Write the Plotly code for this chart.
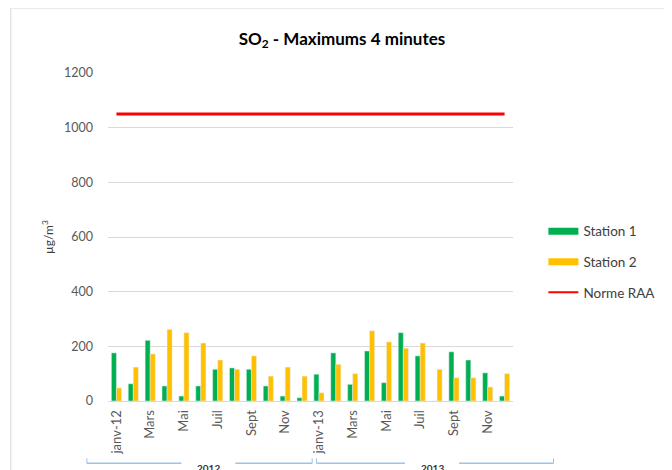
import plotly.graph_objects as go

# months as Excel shows them (first month of each year carries the year)
month_labels = ["janv-12", "Févr", "Mars", "Avr", "Mai", "Juin", "Juil", "Août", "Sept", "Oct", "Nov", "Déc",
                "janv-13", "Févr", "Mars", "Avr", "Mai", "Juin", "Juil", "Août", "Sept", "Oct", "Nov", "Déc"]
years = ["2012", "2013"]

station1 = [176, 63, 222, 55, 18, 55, 116, 121, 116, 55, 18, 12,
            98, 176, 61, 183, 67, 250, 165, 0, 180, 150, 103, 18]
station2 = [48, 124, 172, 262, 250, 212, 150, 116, 165, 91, 124, 91,
            30, 134, 100, 257, 216, 193, 212, 116, 85, 85, 51, 100]
norme_raa = [1050] * 24

x = list(range(len(month_labels)))
GREEN = "#00B050"
YELLOW = "#FFC000"
RED = "#FF0000"
FONT = "Lato"

fig = go.Figure()
fig.add_trace(go.Bar(x=x, y=station1, marker_color=GREEN, name="Station 1",
                     showlegend=False, legendgroup="s1"))
fig.add_trace(go.Bar(x=x, y=station2, marker_color=YELLOW, name="Station 2",
                     showlegend=False, legendgroup="s2"))
fig.add_trace(go.Scatter(x=x, y=norme_raa, mode="lines", line=dict(color=RED, width=3),
                         name="Norme RAA", showlegend=False, legendgroup="raa"))

# legend entries drawn as wide strips like Excel
fig.add_trace(go.Scatter(x=[None], y=[None], mode="lines", line=dict(color=GREEN, width=7),
                         name="Station 1", legendgroup="s1"))
fig.add_trace(go.Scatter(x=[None], y=[None], mode="lines", line=dict(color=YELLOW, width=7),
                         name="Station 2", legendgroup="s2"))
fig.add_trace(go.Scatter(x=[None], y=[None], mode="lines", line=dict(color=RED, width=2),
                         name="Norme RAA", legendgroup="raa"))


def to_paper(v):
    # category position -> paper fraction of the x axis
    return (v + 0.5) / len(x)


# year labels + brackets under the month labels (Excel stretches them a bit)
brackets = [(-1.75, 11.6), (11.85, 25.9)]
label_pos = [5.45, 18.7]
line_style = dict(color="#9DC3E6", width=1.5)
for i, yr in enumerate(years):
    b0, b1 = brackets[i]
    lx = label_pos[i]
    fig.add_annotation(x=to_paper(lx), y=-0.203, xref="paper", yref="paper", text="<b>" + yr + "</b>",
                       showarrow=False, font=dict(family=FONT, size=10, color="#333333"),
                       xanchor="center", yanchor="middle")
    fig.add_shape(type="line", xref="paper", yref="paper", x0=to_paper(b0), x1=to_paper(lx - 1.6),
                  y0=-0.19, y1=-0.19, line=line_style)
    fig.add_shape(type="line", xref="paper", yref="paper", x0=to_paper(lx + 1.6), x1=to_paper(b1),
                  y0=-0.19, y1=-0.19, line=line_style)
    for bx in (b0, b1):
        fig.add_shape(type="line", xref="paper", yref="paper", x0=to_paper(bx), x1=to_paper(bx),
                      y0=-0.19, y1=-0.175, line=dict(color="#9DC3E6", width=1))

# faint chart-area border
fig.add_shape(type="rect", xref="paper", yref="paper", x0=-0.24, x1=1.5, y0=-0.5, y1=1.198,
              line=dict(color="#D9D9D9", width=1))

fig.add_annotation(x=-0.148, y=0.5, xref="paper", yref="paper", text="µg/m<sup>3</sup>",
                   showarrow=False, textangle=-90, xanchor="center", yanchor="middle",
                   font=dict(family=FONT, size=12, color="#404040"))

# page body adds 8px offset, so the figure is drawn 8px smaller
fig.update_layout(
    width=664, height=462,
    margin=dict(l=100, r=159, t=65, b=69),
    paper_bgcolor="white", plot_bgcolor="white",
    font=dict(family=FONT, size=12, color="#595959"),
    title=dict(text="<b>SO<sub>2</sub> - Maximums 4 minutes</b>", x=0.503, xanchor="center",
               y=0.933, yanchor="middle", font=dict(family=FONT, size=17, color="black")),
    barmode="group", bargap=0.4, bargroupgap=0,
    legend=dict(x=1.075, y=0.424, xanchor="left", yanchor="middle", tracegroupgap=10,
                font=dict(family=FONT, size=13.5, color="#404040"), bgcolor="rgba(0,0,0,0)"),
    xaxis=dict(range=[-0.5, 23.5], tickvals=x[::2], ticktext=month_labels[::2], tickangle=-90,
               showgrid=False, zeroline=False, showline=True, linecolor="#D9D9D9",
               ticks="", ticklabelstandoff=3,
               tickfont=dict(family=FONT, size=13, color="#595959")),
    yaxis=dict(range=[0, 1200], dtick=200, showgrid=True, gridcolor="#D9D9D9", gridwidth=1,
               zeroline=False, ticks="", ticklabelstandoff=14,
               tickfont=dict(family=FONT, size=12.5, color="#595959")),
)

fig.write_html("out.html")
